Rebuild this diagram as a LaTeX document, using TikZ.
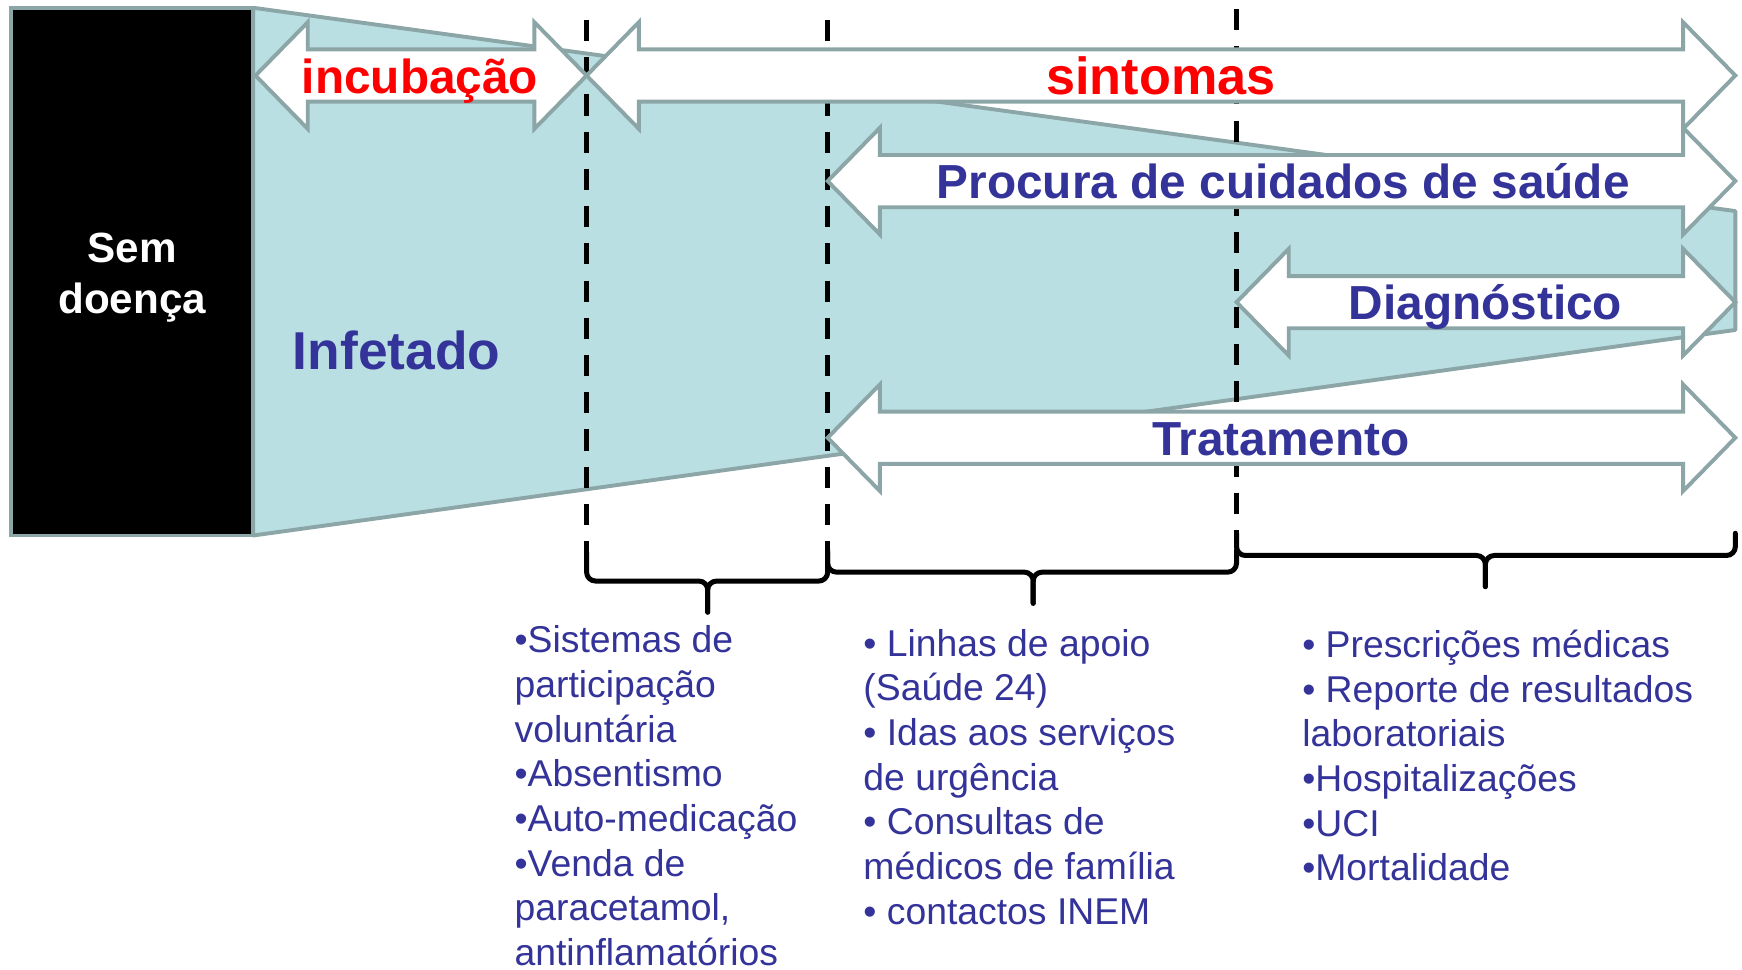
\documentclass[tikz,border=0pt]{standalone}
\usepackage{fontspec}
\setmainfont{Liberation Sans}
\definecolor{edgegray}{RGB}{140,166,168}
\definecolor{infectfill}{RGB}{185,223,226}
\definecolor{dblue}{RGB}{51,51,153}
\definecolor{lred}{RGB}{255,0,0}
\newcommand\blockarrow[3]{%
  \draw[arrowshape] (#1,#3) -- ++(47,-48) -- ++(0,24.5) -- ({#2-47},{#3-23.5}) -- ++(0,-24.5) -- (#2,#3)
    -- ({#2-47},{#3+48}) -- ++(0,-24.5) -- ({#1+47},{#3+23.5}) -- ++(0,24.5) -- cycle;}
\newcommand\phasebrace[5]{% xl, xr, xmid, ytop, ybar ; tick depth fixed
  \draw[bracket] (#1,#4) -- (#1,#5) -- (#3,#5) -- (#3,{#5+28});
  \draw[bracket] (#2,#4) -- (#2,#5) -- (#3,#5) -- (#3,{#5+28});}
\begin{document}
\begin{tikzpicture}[x=1pt,y=-1pt,
  arrowshape/.style={draw=edgegray, fill=white, line width=3.5pt, line join=miter},
  biglabel/.style={font=\fontsize{43}{50}\selectfont\bfseries, text=dblue, inner sep=0, anchor=base},
  redlabel/.style={font=\fontsize{45}{50}\selectfont\bfseries, text=lred, inner sep=0, anchor=base},
  listtext/.style={font=\fontsize{33.6}{40.2}\selectfont, text=dblue, align=left, anchor=north west, inner sep=0},
  vdash/.style={draw=black, line width=4.5pt, dash pattern=on 19pt off 14.5pt},
  bracket/.style={draw=black, line width=4.5pt, rounded corners=8pt, line cap=round, line join=round}]
\useasboundingbox (0,0) rectangle (1568,873);
% infected region
\draw[draw=edgegray, fill=infectfill, line width=3.5pt, line join=round] (228,7) -- (1562,190) -- (1562,297) -- (228,482) -- cycle;
% dashed dividers
\draw[vdash] (528,18) -- (528,497);
\draw[vdash] (745,18) -- (745,495);
\draw[vdash] (1113,8) -- (1113,480);
% arrows
\blockarrow{230}{528}{68}
\blockarrow{528}{1562}{68}
\blockarrow{745}{1562}{163}
\blockarrow{1113}{1562}{272}
\blockarrow{745}{1562}{394}
% healthy box
\draw[draw=edgegray, fill=black, line width=3.5pt] (10,7) rectangle (228,482);
\node[font=\fontsize{38}{44}\selectfont\bfseries, text=white, inner sep=0, anchor=base] (sem) at (119,236) {Sem};
\node[font=\fontsize{38}{44}\selectfont\bfseries, text=white, inner sep=0, anchor=base] (doenca) at (119,282) {doença};
% labels
\node[font=\fontsize{48}{54}\selectfont\bfseries, text=dblue, inner sep=0, anchor=base] (inf) at (357,333) {Infetado};
\node[redlabel, font=\fontsize{43}{50}\selectfont\bfseries] (incub) at (378,84) {incubação};
\node[redlabel, font=\fontsize{47}{50}\selectfont\bfseries] (sint) at (1045,85) {sintomas};
\node[biglabel] (proc) at (1155,179) {Procura de cuidados de saúde};
\node[biglabel] (diag) at (1337,288) {Diagnóstico};
\node[biglabel] (trat) at (1153,410) {Tratamento};
% brackets
\phasebrace{528}{745}{637}{497}{523}
\phasebrace{745}{1113}{930}{495}{515}
\phasebrace{1113}{1562}{1337}{480}{500}
% lists
\node[listtext] (l1) at (463,563) {•Sistemas de\\participação\\voluntária\\•Absentismo\\•Auto-medicação\\•Venda de\\paracetamol,\\antinflamatórios};
\node[listtext] (l2) at (777,566) {• Linhas de apoio\\(Saúde 24)\\• Idas aos serviços\\de urgência\\• Consultas de\\médicos de família\\• contactos INEM};
\node[listtext] (l3) at (1172,567) {• Prescrições médicas\\• Reporte de resultados\\laboratoriais\\•Hospitalizações\\•UCI\\•Mortalidade};
\end{tikzpicture}
\end{document}
